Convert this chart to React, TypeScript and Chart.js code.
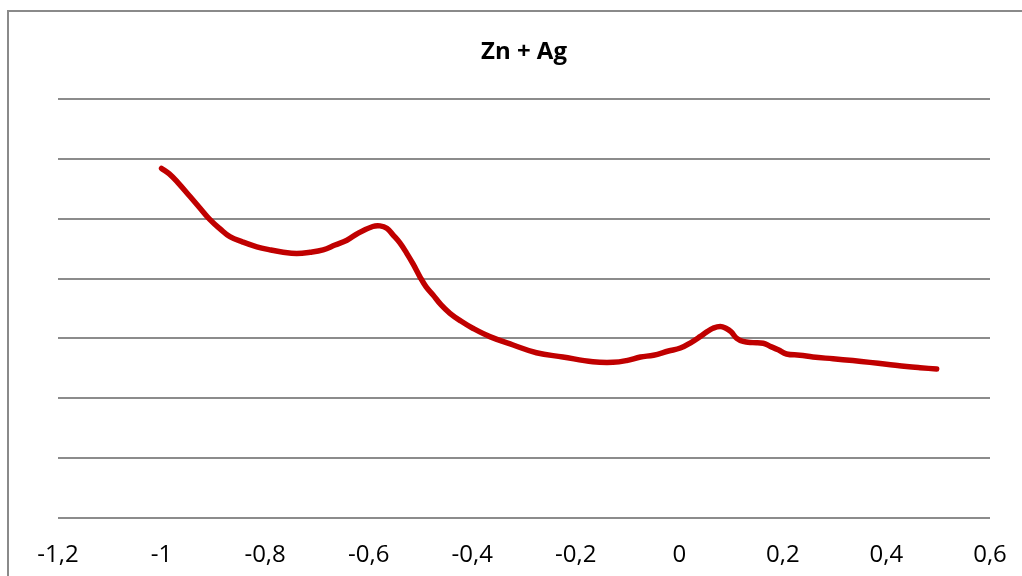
import React, { useEffect, useRef } from "react";
import { Chart, registerables } from "chart.js";

Chart.register(...registerables);

// Potential (x) and response (y) samples for the Zn + Ag curve
const potentials: number[] = [
  -1.0, -0.985, -0.968, -0.945, -0.926, -0.906, -0.887, -0.868, -0.843, -0.816,
  -0.791, -0.765, -0.739, -0.713, -0.688, -0.665, -0.642, -0.62, -0.592, -0.578,
  -0.565, -0.553, -0.54, -0.527, -0.514, -0.501, -0.489, -0.476, -0.46, -0.443,
  -0.422, -0.399, -0.366, -0.321, -0.276, -0.225, -0.167, -0.128, -0.102, -0.075,
  -0.05, -0.021, 0.002, 0.024, 0.04, 0.053, 0.065, 0.079, 0.09, 0.1,
  0.111, 0.123, 0.142, 0.162, 0.175, 0.191, 0.207, 0.233, 0.258, 0.297,
  0.335, 0.368, 0.4, 0.439, 0.465, 0.497,
];
const responses: number[] = [
  5.84, 5.75, 5.6, 5.37, 5.18, 4.98, 4.83, 4.7, 4.61, 4.53,
  4.48, 4.44, 4.42, 4.44, 4.48, 4.56, 4.64, 4.76, 4.87, 4.88,
  4.84, 4.73, 4.6, 4.43, 4.24, 4.03, 3.86, 3.73, 3.56, 3.42,
  3.29, 3.17, 3.03, 2.89, 2.76, 2.69, 2.61, 2.6, 2.63, 2.69,
  2.72, 2.79, 2.84, 2.94, 3.03, 3.11, 3.17, 3.2, 3.17, 3.11,
  3.0, 2.95, 2.93, 2.92, 2.87, 2.81, 2.74, 2.72, 2.69, 2.66,
  2.63, 2.6, 2.57, 2.53, 2.51, 2.49,
];
const xTicks: number[] = [-1.2, -1, -0.8, -0.6, -0.4, -0.2, 0, 0.2, 0.4, 0.6];
const chartTitle = "Zn + Ag";

// Frame around the chart object, as in a spreadsheet chart
const framePlugin = {
  id: "frame",
  beforeDraw(chart: any) {
    const ctx = chart.ctx;
    ctx.save();
    ctx.strokeStyle = "#8a8a8a";
    ctx.lineWidth = 2;
    ctx.beginPath();
    ctx.moveTo(8, chart.height + 10);
    ctx.lineTo(8, 11);
    ctx.lineTo(chart.width + 10, 11);
    ctx.stroke();
    ctx.restore();
  },
};

export default function App() {
  const canvasRef = useRef<HTMLCanvasElement | null>(null);

  useEffect(() => {
    if (!canvasRef.current) return;
    const points = potentials.map((x, i) => ({ x, y: responses[i] }));
    const chart = new Chart(canvasRef.current, {
      type: "line",
      data: {
        datasets: [
          {
            data: points,
            borderColor: "#C00000",
            borderWidth: 5.5,
            borderCapStyle: "round",
            borderJoinStyle: "round",
            pointRadius: 0,
            tension: 0.4,
            fill: false,
          },
        ],
      },
      options: {
        animation: false,
        responsive: false,
        layout: { padding: { left: 58, right: 32, top: 0, bottom: 0 } },
        plugins: {
          legend: { display: false },
          tooltip: { enabled: false },
          title: {
            display: true,
            text: chartTitle,
            color: "#000000",
            font: { family: "'Open Sans', sans-serif", size: 24, weight: "bold" },
            padding: { top: 38, bottom: 32.2 },
          },
        },
        scales: {
          x: {
            type: "linear",
            min: -1.2,
            max: 0.6,
            afterBuildTicks: (scale: any) => {
              scale.ticks = xTicks.map((v) => ({ value: v }));
            },
            afterFit: (scale: any) => {
              scale.height = 58;
              scale.paddingLeft = 0;
              scale.paddingRight = 0;
            },
            grid: { display: false, drawTicks: false },
            border: { display: false },
            ticks: {
              color: "#000000",
              padding: 23,
              maxRotation: 0,
              autoSkip: false,
              font: { family: "'Open Sans', sans-serif", size: 24 },
              callback: (v: any) => String(v).replace(".", ","),
            },
          },
          y: {
            min: 0,
            max: 7,
            afterFit: (scale: any) => {
              scale.width = 0;
            },
            ticks: { display: false, stepSize: 1 },
            grid: { color: "#8c8c8c", lineWidth: 2, drawTicks: false },
            border: { display: false },
          },
        },
      },
      plugins: [framePlugin],
    });
    return () => chart.destroy();
  }, []);

  return (
    <div style={{ position: "fixed", left: 0, top: 0, width: 1022, height: 576, background: "#ffffff" }}>
      <canvas ref={canvasRef} width={1022} height={576} />
    </div>
  );
}
